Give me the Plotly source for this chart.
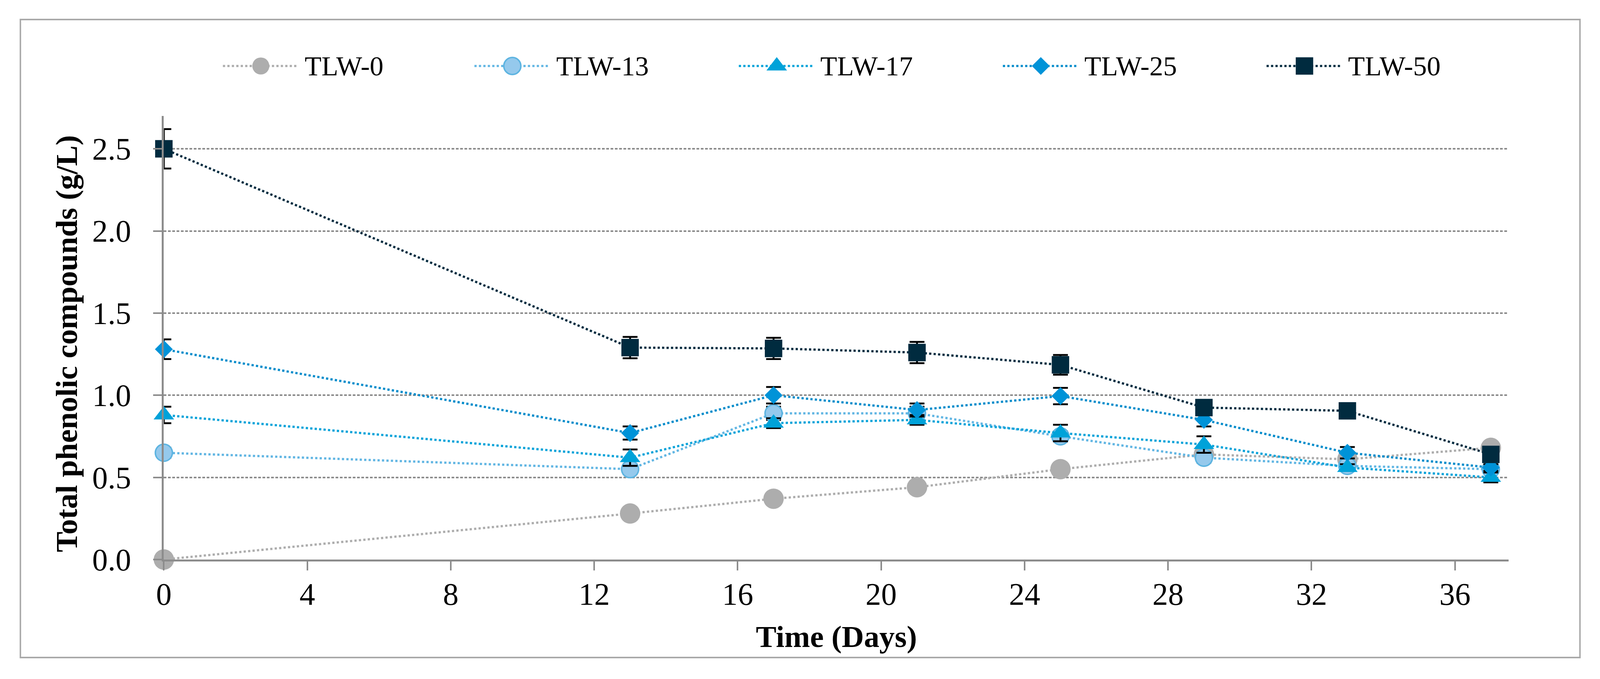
import plotly.graph_objects as go

# ---------------- data ----------------
days = [0, 13, 17, 21, 25, 29, 33, 37]
series_names = ["TLW-0", "TLW-13", "TLW-17", "TLW-25", "TLW-50"]

tlw0 = [0.00, 0.28, 0.37, 0.44, 0.55, 0.64, 0.61, 0.68]
tlw13 = [0.65, 0.55, 0.89, 0.89, 0.75, 0.62, 0.57, 0.55]
tlw17 = [0.88, 0.62, 0.83, 0.85, 0.77, 0.70, 0.56, 0.50]
tlw25 = [1.28, 0.77, 1.00, 0.91, 0.995, 0.85, 0.65, 0.56]
tlw50 = [2.50, 1.29, 1.285, 1.26, 1.185, 0.925, 0.905, 0.64]

tlw0_err = [0.01, 0.01, 0.01, 0.01, 0.01, 0.01, 0.01, 0.01]
tlw13_err = [0.03, 0.03, 0.04, 0.04, 0.03, 0.03, 0.02, 0.02]
tlw17_err = [0.05, 0.05, 0.03, 0.03, 0.05, 0.05, 0.02, 0.03]
tlw25_err = [0.06, 0.04, 0.05, 0.04, 0.05, 0.04, 0.035, 0.02]
tlw50_err = [0.12, 0.065, 0.065, 0.065, 0.06, 0.03, 0.02, 0.02]

y_ticks = [0.0, 0.5, 1.0, 1.5, 2.0, 2.5]
x_ticks = [0, 4, 8, 12, 16, 20, 24, 28, 32, 36]

values = [tlw0, tlw13, tlw17, tlw25, tlw50]
errors = [tlw0_err, tlw13_err, tlw17_err, tlw25_err, tlw50_err]

# ---------------- styles / layout ----------------
# Layout is designed on the reference's pixel grid (4472 x 1739) and mapped
# onto the visible page area (4096 x 1739 css px, 8 px body margin).
REF_W, REF_H = 4472, 1739
VIEW_W, VIEW_H = 4096, 1739
BODY = 8
SX = VIEW_W / REF_W
SY = VIEW_H / REF_H
FS = 0.95          # scale for fonts, marker sizes, stroke widths

W = VIEW_W - 2 * BODY
H = VIEW_H - 2 * BODY


def fx(x_ref):
    return (x_ref * SX - BODY) / W


def fy(y_ref):
    return 1 - (y_ref * SY - BODY) / H


def s(v):
    return v * FS


PL, PR, PT, PB = 458, 4217, 297, 1433
FONT = "Liberation Serif"
AXIS_GRAY = "#8C8C8C"

markers = [
    dict(symbol="circle", size=s(55), color="#ADADAD", line=dict(width=0)),
    dict(symbol="circle", size=s(46), color="#95C9EC", line=dict(color="#5DB4E1", width=s(4))),
    dict(symbol="triangle-up", size=s(48), color="#00A2D9", line=dict(width=0)),
    dict(symbol="diamond", size=s(37), color="#0093D8", line=dict(width=0)),
    dict(symbol="square", size=s(47), color="#002B3F", line=dict(width=0)),
]
legend_marker_sizes = [s(46), s(46), s(48), s(37), s(47)]
line_colors = ["#ADADAD", "#62B6E3", "#00A2D9", "#008CCB", "#002B3F"]
LINE_W = s(6)

legend_centers = [729, 1432, 2171, 2909, 3646]
LEGEND_Y = 169

fig = go.Figure()

for name, vals, errs, mk, lc in zip(series_names, values, errors, markers, line_colors):
    fig.add_trace(go.Scatter(
        x=days, y=vals, name=name, mode="lines+markers",
        line=dict(color=lc, width=LINE_W, dash="dot"),
        marker=mk,
        error_y=dict(type="data", array=errs, visible=True,
                     color="#000000", thickness=s(5), width=s(20)),
        cliponaxis=False, showlegend=False,
        xaxis="x", yaxis="y",
    ))

# custom legend drawn in a paper-space overlay (0..1 both ways)
annotations = []
for name, mk, lc, cx, ls in zip(series_names, markers, line_colors, legend_centers, legend_marker_sizes):
    fig.add_trace(go.Scatter(
        x=[fx(cx - 106), fx(cx + 102)], y=[fy(LEGEND_Y), fy(LEGEND_Y)], mode="lines",
        line=dict(color=lc, width=LINE_W, dash="dot"),
        showlegend=False, hoverinfo="skip", xaxis="x2", yaxis="y2", cliponaxis=False,
    ))
    m2 = dict(mk)
    m2["size"] = ls
    fig.add_trace(go.Scatter(
        x=[fx(cx)], y=[fy(LEGEND_Y)], mode="markers", marker=m2,
        showlegend=False, hoverinfo="skip", xaxis="x2", yaxis="y2", cliponaxis=False,
    ))
    annotations.append(dict(
        text=name, x=fx(cx + 120), y=fy(LEGEND_Y), xref="paper", yref="paper",
        xanchor="left", yanchor="middle", showarrow=False,
        font=dict(family=FONT, size=s(74), color="#000000"),
    ))

# axis titles
annotations.append(dict(
    text="<b>Total phenolic compounds (g/L)</b>", x=fx(186), y=fy(880),
    xref="paper", yref="paper", xanchor="center", yanchor="middle",
    textangle=-90, showarrow=False, font=dict(family=FONT, size=s(83), color="#000000"),
))
annotations.append(dict(
    text="<b>Time (Days)</b>", x=fx((PL + PR) / 2), y=fy(1630),
    xref="paper", yref="paper", xanchor="center", yanchor="middle",
    showarrow=False, font=dict(family=FONT, size=s(83), color="#000000"),
))

fig.update_layout(
    width=W, height=H,
    margin=dict(l=0, r=0, t=0, b=0, autoexpand=False),
    paper_bgcolor="white", plot_bgcolor="rgba(0,0,0,0)",
    showlegend=False,
    font=dict(family=FONT, size=s(84), color="#000000"),
    xaxis=dict(
        domain=[fx(PL), fx(PR)], range=[0, 37.5],
        tickvals=x_ticks, ticktext=[str(t) for t in x_ticks],
        ticks="outside", ticklen=23 * SY, tickwidth=s(4), tickcolor=AXIS_GRAY,
        showline=True, linecolor=AXIS_GRAY, linewidth=s(5),
        showgrid=False, zeroline=False,
        tickfont=dict(family=FONT, size=s(84), color="#000000"),
        ticklabelstandoff=-8, anchor="y",
    ),
    yaxis=dict(
        domain=[fy(PB), fy(PT)], range=[0, 2.7],
        tickvals=y_ticks, ticktext=[f"{t:.1f}" for t in y_ticks],
        ticks="outside", ticklen=25 * SX, tickwidth=s(4), tickcolor=AXIS_GRAY,
        showline=True, linecolor=AXIS_GRAY, linewidth=s(5),
        showgrid=True, gridcolor=AXIS_GRAY, gridwidth=s(4), griddash="7px,4px",
        zeroline=False,
        tickfont=dict(family=FONT, size=s(84), color="#000000"),
        ticklabelstandoff=40, anchor="x",
    ),
    xaxis2=dict(domain=[0, 1], range=[0, 1], visible=False, anchor="y2", fixedrange=True),
    yaxis2=dict(domain=[0, 1], range=[0, 1], visible=False, anchor="x2", fixedrange=True),
    annotations=annotations,
    shapes=[dict(
        type="rect", xref="paper", yref="paper",
        x0=fx(57), x1=fx(4416), y0=fy(1684), y1=fy(50),
        line=dict(color="#A9A9A9", width=s(4)), fillcolor="rgba(0,0,0,0)", layer="below",
    )],
)

fig.write_html("out.html")
